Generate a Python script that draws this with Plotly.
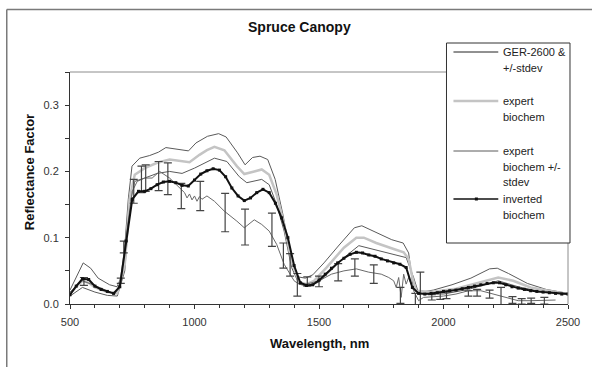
import plotly.graph_objects as go

# ---------------- data ----------------
inv_wl = list(range(500, 2501, 25))
inv_refl = [0.014, 0.027, 0.038, 0.037, 0.027, 0.022, 0.019, 0.016, 0.026, 0.095,
            0.158, 0.170, 0.170, 0.174, 0.180, 0.184, 0.185, 0.183, 0.179, 0.178,
            0.187, 0.196, 0.201, 0.204, 0.202, 0.192, 0.175, 0.163, 0.156, 0.160,
            0.168, 0.173, 0.168, 0.152, 0.130, 0.100, 0.058, 0.032, 0.028, 0.029,
            0.036, 0.045, 0.054, 0.062, 0.069, 0.075, 0.078, 0.077, 0.074, 0.072,
            0.068, 0.065, 0.062, 0.060, 0.055, 0.025, 0.016, 0.015, 0.016, 0.017,
            0.019, 0.020, 0.021, 0.023, 0.025, 0.027, 0.029, 0.031, 0.032, 0.032,
            0.029, 0.026, 0.024, 0.022, 0.020, 0.019, 0.018, 0.017, 0.016, 0.015,
            0.015]

exp_wl = [500, 525, 550, 575, 600, 650, 690, 720, 740, 760, 800, 850, 900, 950, 980,
          1020, 1050, 1080, 1120, 1170, 1200, 1240, 1270, 1300, 1330, 1360, 1390,
          1420, 1450, 1480, 1530, 1600, 1650, 1680, 1730, 1800, 1840, 1860, 1875,
          1890, 1950, 2050, 2150, 2220, 2280, 2350, 2450, 2500]
exp_refl = [0.015, 0.026, 0.035, 0.032, 0.025, 0.018, 0.016, 0.060, 0.160, 0.195,
            0.205, 0.213, 0.218, 0.215, 0.214, 0.225, 0.232, 0.237, 0.232, 0.208,
            0.196, 0.200, 0.203, 0.195, 0.165, 0.120, 0.065, 0.033, 0.030, 0.035,
            0.055, 0.085, 0.100, 0.100, 0.092, 0.083, 0.078, 0.068, 0.040, 0.020,
            0.018, 0.023, 0.033, 0.040, 0.035, 0.025, 0.018, 0.015]

up_wl = [500, 523, 553, 583, 613, 659, 689, 712, 734, 749, 780, 820, 855, 885, 946,
         976, 1006, 1052, 1097, 1127, 1173, 1203, 1233, 1263, 1294, 1324, 1354, 1384,
         1415, 1445, 1475, 1520, 1581, 1642, 1672, 1732, 1792, 1838, 1860, 1876, 1898,
         1959, 2034, 2110, 2185, 2216, 2261, 2337, 2412, 2500]
up_refl = [0.021, 0.039, 0.062, 0.054, 0.039, 0.029, 0.026, 0.046, 0.158, 0.208,
           0.220, 0.224, 0.229, 0.236, 0.233, 0.231, 0.243, 0.253, 0.257, 0.252,
           0.228, 0.210, 0.221, 0.223, 0.218, 0.188, 0.137, 0.077, 0.041, 0.039,
           0.044, 0.062, 0.089, 0.115, 0.118, 0.107, 0.097, 0.092, 0.077, 0.031,
           0.017, 0.021, 0.029, 0.039, 0.053, 0.054, 0.046, 0.031, 0.022, 0.016]

lo_wl = [500, 550, 600, 650, 690, 720, 740, 760, 800, 850, 900, 950, 1000, 1080, 1130,
         1180, 1210, 1270, 1300, 1330, 1360, 1390, 1420, 1450, 1500, 1600, 1660, 1720,
         1800, 1850, 1880, 1900, 2000, 2100, 2220, 2300, 2400, 2500]
lo_refl = [0.012, 0.025, 0.018, 0.013, 0.012, 0.050, 0.150, 0.185, 0.190, 0.197,
           0.200, 0.197, 0.205, 0.220, 0.215, 0.192, 0.183, 0.188, 0.180, 0.150,
           0.110, 0.055, 0.030, 0.027, 0.033, 0.070, 0.088, 0.082, 0.074, 0.070,
           0.040, 0.016, 0.015, 0.022, 0.035, 0.026, 0.018, 0.014]

ger_wl = [500, 550, 600, 650, 680, 700, 720, 750, 770, 800, 830, 860, 900, 940, 960,
          970, 980, 990, 1000, 1010, 1020, 1030, 1050, 1080, 1120, 1170, 1200, 1240,
          1270, 1300, 1330, 1360, 1400, 1420, 1450, 1500, 1550, 1600, 1650, 1700, 1750,
          1780, 1800, 1810, 1820, 1830, 1840, 1850, 1860, 1880, 1900, 1920, 2000, 2050,
          2100, 2150, 2200, 2250, 2300, 2350, 2400, 2450]
ger_refl = [0.018, 0.035, 0.028, 0.020, 0.015, 0.030, 0.085, 0.170, 0.185, 0.190,
            0.190, 0.200, 0.190, 0.175, 0.168, 0.160, 0.166, 0.157, 0.163, 0.155,
            0.162, 0.158, 0.163, 0.155, 0.140, 0.125, 0.115, 0.127, 0.120, 0.110,
            0.090, 0.060, 0.035, 0.030, 0.030, 0.035, 0.045, 0.050, 0.053, 0.048,
            0.045, 0.040, 0.035, 0.025, 0.040, 0.010, 0.045, 0.030, 0.040, 0.020,
            0.005, 0.010, 0.012, 0.015, 0.020, 0.020, 0.015, 0.010, 0.005, 0.005,
            0.006, 0.006]

eb_wl = [556, 704, 716, 756, 787, 804, 856, 893, 947, 1023, 1123, 1203, 1311, 1357,
         1384, 1413, 1453, 1500, 1577, 1644, 1720, 1827, 1887, 1907, 1953, 1987, 2012,
         2100, 2135, 2185, 2231, 2277, 2314, 2352, 2405]
eb_mean = [0.034, 0.035, 0.086, 0.170, 0.188, 0.190, 0.193, 0.189, 0.163, 0.163,
           0.138, 0.116, 0.112, 0.073, 0.059, 0.029, 0.034, 0.034, 0.048, 0.055,
           0.045, 0.013, 0.006, 0.022, 0.010, 0.012, 0.013, 0.016, 0.017, 0.015,
           0.012, 0.006, 0.004, 0.005, 0.005]
eb_sd = [0.006, 0.004, 0.009, 0.018, 0.020, 0.020, 0.022, 0.024, 0.019, 0.022,
         0.029, 0.027, 0.025, 0.019, 0.017, 0.017, 0.007, 0.008, 0.013, 0.013,
         0.014, 0.012, 0.010, 0.026, 0.004, 0.005, 0.005, 0.004, 0.005, 0.006,
         0.013, 0.005, 0.004, 0.004, 0.005]

legend_labels = [["GER-2600 &", "+/-stdev"],
                 ["expert", "biochem"],
                 ["expert", "biochem +/-", "stdev"],
                 ["inverted", "biochem"]]

title_text = "Spruce Canopy"
x_title = "Wavelength, nm"
y_title = "Reflectance Factor"

# ---------------- figure ----------------
FONT = "Liberation Sans, Arial, sans-serif"
L, R, T, B = 70, 570, 72, 304  # plot area pixels
W, H = 592, 367


def px(x):
    return (x - L) / (R - L)


def py(y):
    return (B - y) / (B - T)


fig = go.Figure()
fig.add_trace(go.Scatter(x=up_wl, y=up_refl, mode="lines",
                         line=dict(color="#5a5a5a", width=1), hoverinfo="skip"))
fig.add_trace(go.Scatter(x=lo_wl, y=lo_refl, mode="lines",
                         line=dict(color="#5a5a5a", width=1), hoverinfo="skip"))
fig.add_trace(go.Scatter(x=exp_wl, y=exp_refl, mode="lines",
                         line=dict(color="#c4c4c4", width=2.5), hoverinfo="skip"))
fig.add_trace(go.Scatter(x=ger_wl, y=ger_refl, mode="lines",
                         line=dict(color="#6a6a6a", width=1), hoverinfo="skip"))
fig.add_trace(go.Scatter(x=eb_wl, y=eb_mean, mode="markers",
                         marker=dict(size=1, color="rgba(0,0,0,0)"),
                         error_y=dict(type="data", array=eb_sd, visible=True,
                                      color="#444444", thickness=1.2, width=4),
                         hoverinfo="skip"))
fig.add_trace(go.Scatter(x=inv_wl, y=inv_refl, mode="lines+markers",
                         line=dict(color="#111111", width=2),
                         marker=dict(symbol="square", size=3, color="#111111"),
                         hoverinfo="skip"))

shapes = []
# outer chart border (cropped at right/bottom)
shapes.append(dict(type="line", xref="paper", yref="paper",
                   x0=px(6.5), x1=px(W + 5), y0=py(9.5), y1=py(9.5),
                   line=dict(color="#7a7a7a", width=1.5)))
shapes.append(dict(type="line", xref="paper", yref="paper",
                   x0=px(6.5), x1=px(6.5), y0=py(9.5), y1=py(H + 5),
                   line=dict(color="#7a7a7a", width=1.5)))
# plot area border top/right
shapes.append(dict(type="line", xref="paper", yref="paper", x0=0, x1=1, y0=1, y1=1,
                   line=dict(color="#8c8c8c", width=1)))
shapes.append(dict(type="line", xref="paper", yref="paper", x0=1, x1=1, y0=0, y1=1,
                   line=dict(color="#8c8c8c", width=1)))
# legend box
shapes.append(dict(type="rect", xref="paper", yref="paper",
                   x0=px(448), x1=px(572), y0=py(243), y1=py(43),
                   fillcolor="white", line=dict(color="#333333", width=1), layer="above"))

legend_styles = [dict(color="#222222", width=1),
                 dict(color="#c4c4c4", width=2.5),
                 dict(color="#5a5a5a", width=1),
                 dict(color="#111111", width=1.5)]
legend_y = [52, 101, 151, 199]
annotations = []
for i, (labs, st, ly) in enumerate(zip(legend_labels, legend_styles, legend_y)):
    shapes.append(dict(type="line", xref="paper", yref="paper",
                       x0=px(455), x1=px(500), y0=py(ly), y1=py(ly),
                       line=st, layer="above"))
    for j, lab in enumerate(labs):
        annotations.append(dict(xref="paper", yref="paper", x=px(503), y=py(ly + j * 15.5),
                                text=lab, showarrow=False, xanchor="left", yanchor="middle",
                                font=dict(family=FONT, size=11, color="#222222")))
# marker on the inverted biochem legend sample
shapes.append(dict(type="rect", xref="paper", yref="paper",
                   x0=px(476.5), x1=px(479.5), y0=py(200.5), y1=py(197.5),
                   fillcolor="#111111", line=dict(width=0), layer="above"))

annotations.append(dict(xref="paper", yref="paper", x=0.5 * (px(L) + px(R)) - 0.04, y=py(27),
                        text=f"<b>{title_text}</b>", showarrow=False,
                        xanchor="center", yanchor="middle",
                        font=dict(family=FONT, size=14, color="#111111")))
annotations.append(dict(xref="paper", yref="paper", x=0.5, y=py(343),
                        text=f"<b>{x_title}</b>", showarrow=False,
                        xanchor="center", yanchor="middle",
                        font=dict(family=FONT, size=13, color="#111111")))
annotations.append(dict(xref="paper", yref="paper", x=px(29), y=py(172),
                        text=f"<b>{y_title}</b>", showarrow=False, textangle=-90,
                        xanchor="center", yanchor="middle",
                        font=dict(family=FONT, size=13, color="#111111")))

fig.update_layout(
    width=W, height=H,
    margin=dict(l=L, r=W - R, t=T, b=H - B),
    paper_bgcolor="white", plot_bgcolor="white",
    showlegend=False,
    shapes=shapes, annotations=annotations,
    font=dict(family=FONT, size=11, color="#333333"),
)
fig.update_xaxes(range=[500, 2500], dtick=500, tick0=500, showgrid=False, zeroline=False,
                 showline=True, linecolor="#333333", linewidth=1,
                 ticks="outside", ticklen=4, tickcolor="#333333", ticklabelstandoff=4,
                 minor=dict(dtick=100, ticks="outside", ticklen=3, tickcolor="#333333"),
                 tickfont=dict(family=FONT, size=11, color="#333333"))
fig.update_yaxes(range=[0, 0.35], dtick=0.1, tick0=0, tickformat=".1f", showgrid=False,
                 zeroline=False, showline=True, linecolor="#333333", linewidth=1,
                 ticks="outside", ticklen=4, tickcolor="#333333", ticklabelstandoff=4,
                 minor=dict(dtick=0.05, ticks="outside", ticklen=4, tickcolor="#333333"),
                 tickfont=dict(family=FONT, size=11, color="#333333"))

fig.write_html("out.html")
